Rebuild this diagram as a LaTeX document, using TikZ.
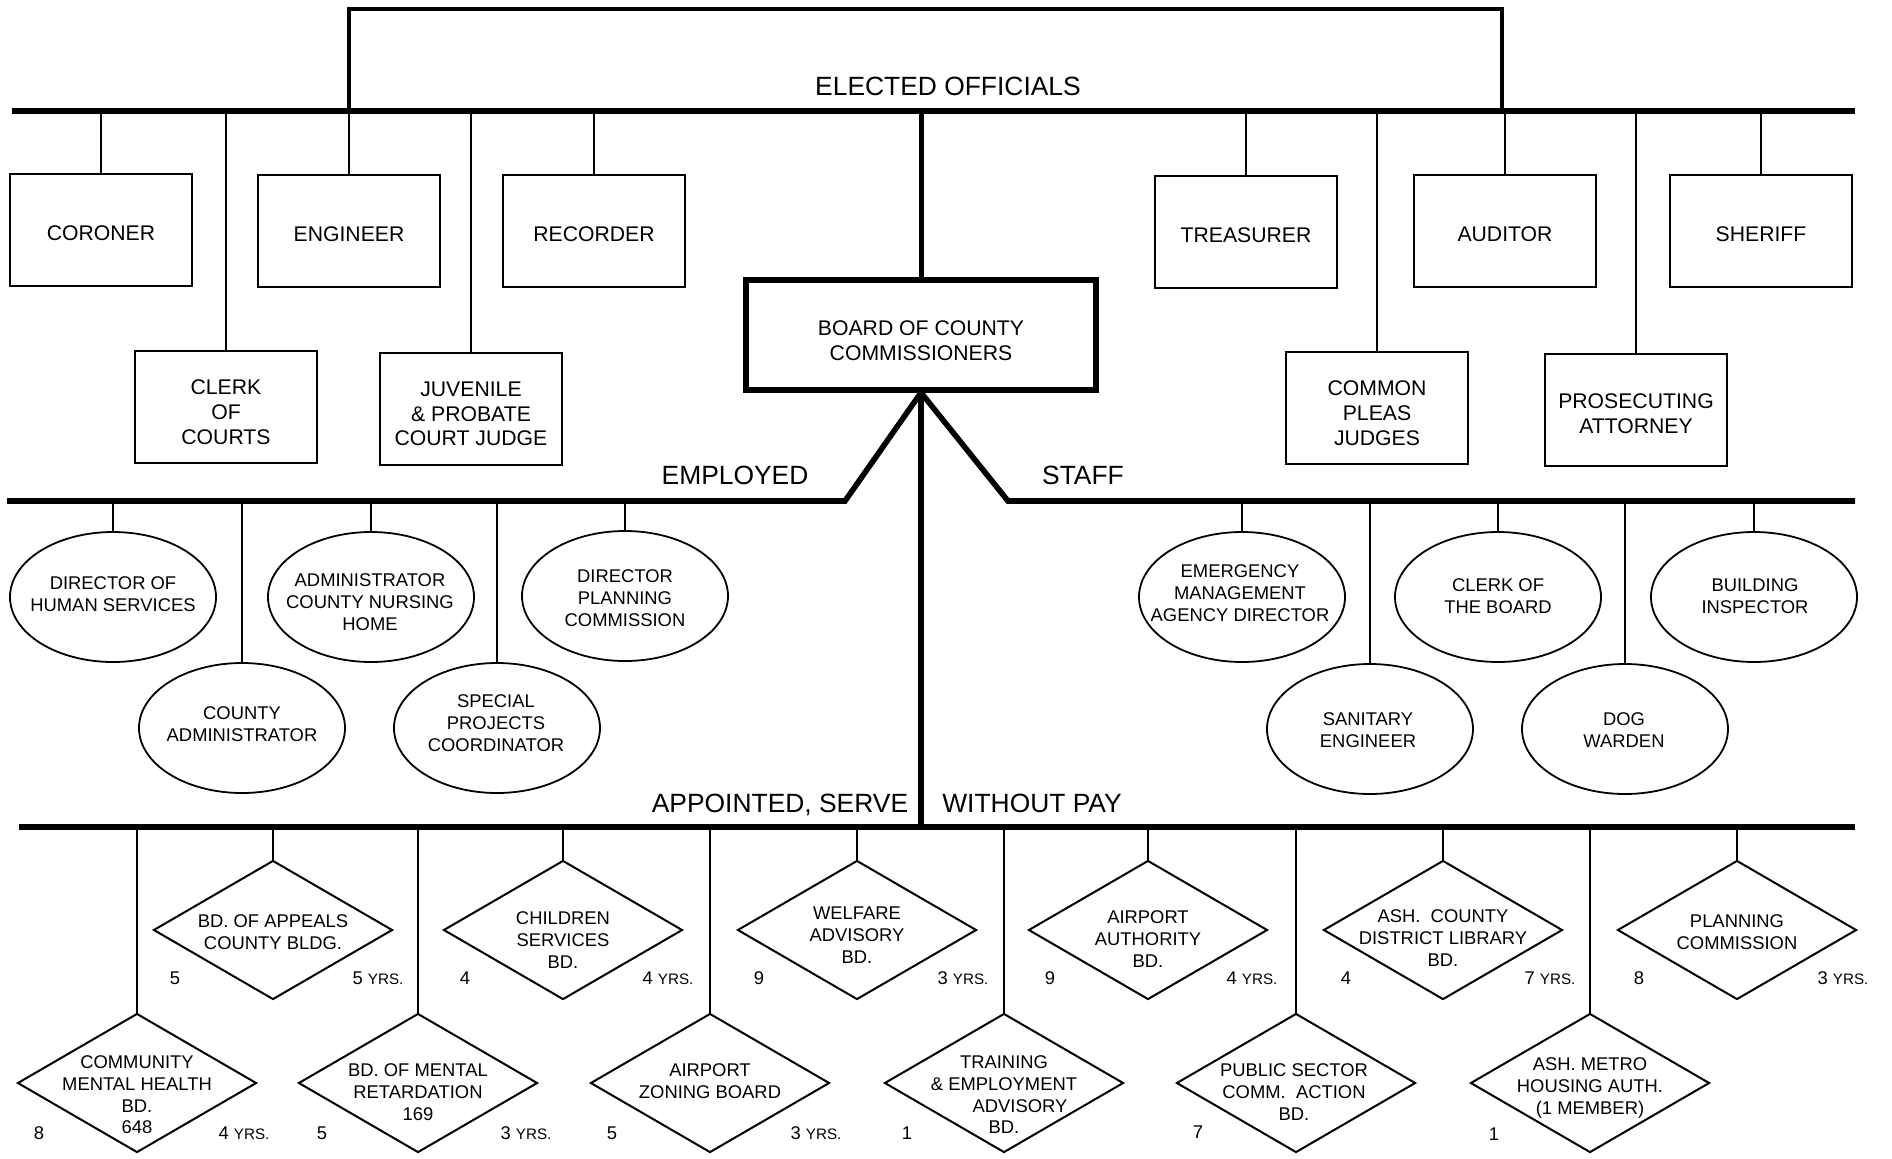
\documentclass[tikz,border=0pt]{standalone}
\usepackage{fontspec}
\setmainfont{Liberation Sans}
\usetikzlibrary{shapes.geometric}
\newcommand\ocBox{\fontsize{10.6}{12.4}\selectfont}
\newcommand\ocEl{\fontsize{9.2}{10.85}\selectfont}
\newcommand\ocSec{\fontsize{13.2}{15}\selectfont}
\newcommand\ocYrs{\fontsize{7.6}{9}\selectfont}
\begin{document}
\begin{tikzpicture}[x=0.5pt,y=-0.5pt,
  office/.style={draw, line width=1.4pt, rectangle, minimum width=91pt, minimum height=56pt, inner sep=0pt},
  board/.style={draw, line width=2.6pt, rectangle, minimum width=175pt, minimum height=55pt, inner sep=0pt},
  btxt/.style={align=center, font=\ocBox, inner sep=0pt},
  emp/.style={draw, ellipse, line width=0.9pt, minimum width=103pt, minimum height=65pt, inner sep=0pt},
  apt/.style={draw, diamond, line width=1pt, minimum width=119.5pt, minimum height=69.5pt, inner sep=0pt},
  lbl/.style={align=center, font=\ocEl, inner sep=0pt},
  sec/.style={font=\ocSec, inner sep=0pt},
  num/.style={font=\ocEl, inner sep=0pt},
  bus/.style={line width=2.8pt},
  thin/.style={line width=0.9pt},
  brk/.style={line width=2.2pt},
]
\useasboundingbox[fill=white] (0,0) rectangle (1892,1158);

% ---------- elected officials ----------
\coordinate (eL) at (12,111);
\coordinate (eR) at (1855,111);
\coordinate (bTL) at (349,9);
\coordinate (bTR) at (1502,9);
\coordinate (bBL) at (349,111);
\coordinate (bBR) at (1502,111);
\draw[brk, line join=miter] (bBL) -- (bTL) -- (bTR) -- (bBR);
\draw[bus] (eL) -- (eR);
\node[sec] (elected) at (948,86) {ELECTED OFFICIALS};

\node[office] (coroner) at (101,230) {};
\node[office] (engineer) at (349,231) {};
\node[office] (recorder) at (594,231) {};
\node[office] (clerkc) at (226,407) {};
\node[office] (juvenile) at (471,409) {};
\node[office] (treasurer) at (1246,232) {};
\node[office] (auditor) at (1505,231) {};
\node[office] (sheriff) at (1761,231) {};
\node[office] (pleas) at (1377,408) {};
\node[office] (prosec) at (1636,410) {};
\node[board] (board) at (921,335) {};

\node[btxt] (coronerT) at (101,233) {CORONER};
\node[btxt] (engineerT) at (349,234) {ENGINEER};
\node[btxt] (recorderT) at (594,234) {RECORDER};
\node[btxt] (clerkcT) at (226,412) {CLERK\\OF\\COURTS};
\node[btxt] (juvenileT) at (471,414) {JUVENILE\\\& PROBATE\\COURT JUDGE};
\node[btxt] (treasurerT) at (1246,235) {TREASURER};
\node[btxt] (auditorT) at (1505,234) {AUDITOR};
\node[btxt] (sheriffT) at (1761,234) {SHERIFF};
\node[btxt] (pleasT) at (1377,413) {COMMON\\PLEAS\\JUDGES};
\node[btxt] (prosecT) at (1636,414) {PROSECUTING\\ATTORNEY};
\node[btxt] (boardT) at (921,341) {BOARD OF COUNTY\\COMMISSIONERS};

\foreach \n in {coroner,engineer,recorder,clerkc,juvenile,treasurer,auditor,sheriff,pleas,prosec}
  \draw[thin] (\n.north) -- (\n.north |- eL);
\draw[line width=2.5pt] (board.north) -- (board.north |- eL);

% ---------- employed / staff ----------
\coordinate (empL) at (7,501);
\coordinate (empK) at (845,501);
\coordinate (stR) at (1855,501);
\coordinate (stK) at (1008,501);
\draw[bus, line join=miter] (empL) -- (empK) -- (board.south);
\draw[bus, line join=miter] (stR) -- (stK) -- (board.south);
\node[sec] (employed) at (735,475) {EMPLOYED};
\node[sec] (staff) at (1083,475) {STAFF};

\node[emp] (e1) at (113,597) {};
\node[emp] (e2) at (242,728) {};
\node[emp] (e3) at (371,597) {};
\node[emp] (e4) at (497,728) {};
\node[emp] (e5) at (625,596) {};
\node[emp] (s1) at (1242,597) {};
\node[emp] (s2) at (1370,729) {};
\node[emp] (s3) at (1498,597) {};
\node[emp] (s4) at (1625,729) {};
\node[emp] (s5) at (1754,597) {};
\foreach \n in {e1,e2,e3,e4,e5}
  \draw[thin] (\n.north) -- (\n.north |- empL);
\foreach \n in {s1,s2,s3,s4,s5}
  \draw[thin] (\n.north) -- (\n.north |- stR);

\node[lbl] (e1t) at (113,594) {DIRECTOR OF\\HUMAN SERVICES};
\node[lbl] (e2t) at (242,724) {COUNTY\\ADMINISTRATOR};
\node[lbl] (e3t) at (370,602) {ADMINISTRATOR\\COUNTY NURSING\\HOME};
\node[lbl] (e4t) at (496,723) {SPECIAL\\PROJECTS\\COORDINATOR};
\node[lbl] (e5t) at (625,598) {DIRECTOR\\PLANNING\\COMMISSION};
\node[lbl] (s1t) at (1240,593) {EMERGENCY\\MANAGEMENT\\AGENCY DIRECTOR};
\node[lbl] (s2t) at (1368,730) {SANITARY\\ENGINEER};
\node[lbl] (s3t) at (1498,596) {CLERK OF\\THE BOARD};
\node[lbl] (s4t) at (1624,730) {DOG\\WARDEN};
\node[lbl] (s5t) at (1755,596) {BUILDING\\INSPECTOR};

% ---------- appointed ----------
\coordinate (apL) at (19,827);
\coordinate (apR) at (1855,827);
\draw[bus] (apL) -- (apR);
\draw[line width=2.6pt] (board.south) -- (board.south |- apL);
\node[sec] (appointed) at (780,805) {APPOINTED, SERVE};
\node[sec] (without) at (1032,803) {WITHOUT PAY};

\node[apt] (d1) at (273,930) {};
\node[apt] (d2) at (563,930) {};
\node[apt] (d3) at (857,930) {};
\node[apt] (d4) at (1148,930) {};
\node[apt] (d5) at (1443,930) {};
\node[apt] (d6) at (1737,930) {};
\node[apt] (b1) at (137,1083) {};
\node[apt] (b2) at (418,1083) {};
\node[apt] (b3) at (710,1083) {};
\node[apt] (b4) at (1004,1083) {};
\node[apt] (b5) at (1296,1083) {};
\node[apt] (b6) at (1590,1083) {};
\foreach \n in {d1,d2,d3,d4,d5,d6,b1,b2,b3,b4,b5,b6}
  \draw[thin] (\n.north) -- (\n.north |- apL);

\node[lbl] (d1t) at (273,932) {BD. OF APPEALS\\COUNTY BLDG.};
\node[lbl] (d2t) at (563,940) {CHILDREN\\SERVICES\\BD.};
\node[lbl] (d3t) at (857,935) {WELFARE\\ADVISORY\\BD.};
\node[lbl] (d4t) at (1148,939) {AIRPORT\\AUTHORITY\\BD.};
\node[lbl] (d5t) at (1443,938) {ASH.\ \ COUNTY\\DISTRICT LIBRARY\\BD.};
\node[lbl] (d6t) at (1737,932) {PLANNING\\COMMISSION};
\node[lbl] (b1t) at (137,1095) {COMMUNITY\\MENTAL HEALTH\\BD.\\648};
\node[lbl] (b2t) at (418,1092) {BD. OF MENTAL\\RETARDATION\\169};
\node[lbl] (b3t) at (710,1081) {AIRPORT\\ZONING BOARD};
\node[lbl] (b4t) at (1004,1095) {TRAINING\\\& EMPLOYMENT\\\hspace*{16pt}ADVISORY\\BD.};
\node[lbl] (b5t) at (1294,1092) {PUBLIC SECTOR\\COMM.\ \ ACTION\\BD.};
\node[lbl] (b6t) at (1590,1088) {ASH. METRO\\HOUSING AUTH.\\(1 MEMBER)};

% member counts and terms
\node[num] (n1) at (175,978) {5};
\node[num] (y1) at (378,978) {5 {\ocYrs YRS.}};
\node[num] (n2) at (465,978) {4};
\node[num] (y2) at (668,978) {4 {\ocYrs YRS.}};
\node[num] (n3) at (759,978) {9};
\node[num] (y3) at (963,978) {3 {\ocYrs YRS.}};
\node[num] (n4) at (1050,978) {9};
\node[num] (y4) at (1252,978) {4 {\ocYrs YRS.}};
\node[num] (n5) at (1346,978) {4};
\node[num] (y5) at (1550,978) {7 {\ocYrs YRS.}};
\node[num] (n6) at (1639,978) {8};
\node[num] (y6) at (1843,978) {3 {\ocYrs YRS.}};
\node[num] (m1) at (39,1133) {8};
\node[num] (z1) at (244,1133) {4 {\ocYrs YRS.}};
\node[num] (m2) at (322,1133) {5};
\node[num] (z2) at (526,1133) {3 {\ocYrs YRS.}};
\node[num] (m3) at (612,1133) {5};
\node[num] (z3) at (816,1133) {3 {\ocYrs YRS.}};
\node[num] (m4) at (907,1133) {1};
\node[num] (m5) at (1198,1132) {7};
\node[num] (m6) at (1494,1134) {1};
\end{tikzpicture}
\end{document}
